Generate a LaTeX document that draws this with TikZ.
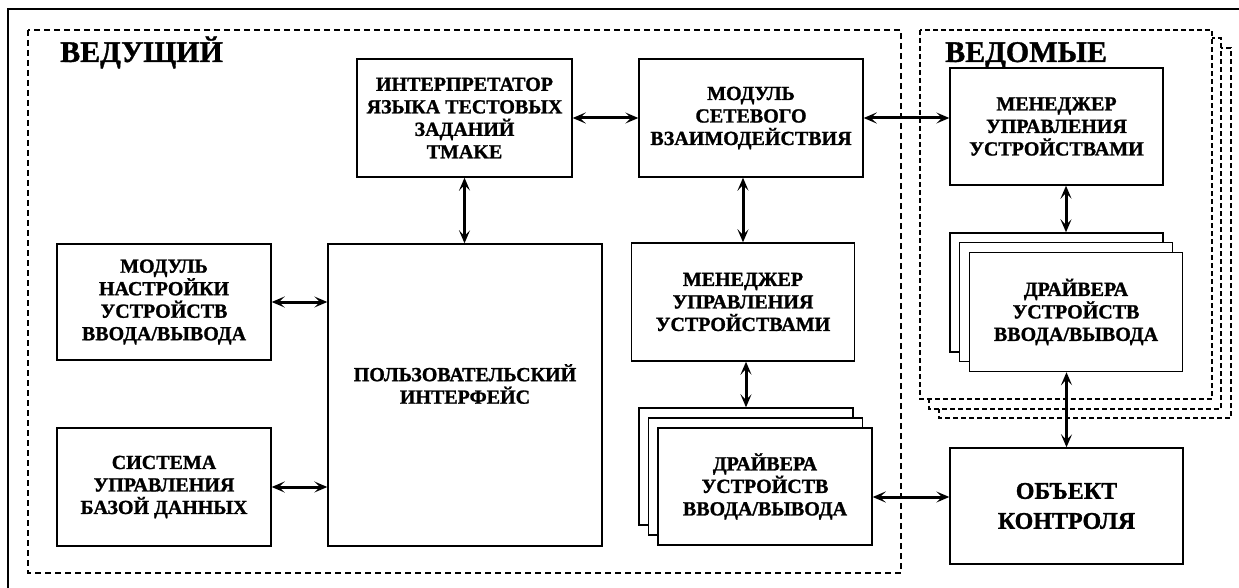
\documentclass[tikz,border=0pt]{standalone}
\usepackage{fontspec}
\setmainfont{Liberation Serif}[BoldFeatures={FakeBold=1.2}]
\usetikzlibrary{arrows.meta,calc}
\begin{document}
\begin{tikzpicture}[x=1pt,y=-1pt,
  box/.style={draw, line width=1.4pt, fill=white, align=center, inner sep=0pt,
    font=\fontsize{20}{22.5}\selectfont\bfseries},
  conn/.style={line width=3pt,
    arrows={Stealth[length=13pt,width=11pt,inset=5.5pt]-Stealth[length=13pt,width=11pt,inset=5.5pt]}},
  masterframe/.style={line width=2.4pt, dash pattern=on 6pt off 4pt},
  slaveframe/.style={line width=1.6pt, dash pattern=on 5pt off 3pt, fill=white},
  title/.style={anchor=base west, inner sep=0pt, font=\fontsize{30}{32}\selectfont\bfseries}]
\clip (0,0) rectangle (1239,588);
% outer frame
\draw[line width=1.4pt] (8,9) rectangle (1260,610);
% master area
\draw[masterframe] (28,30) rectangle (901,573);
% slave areas (back to front)
\draw[slaveframe] (939,48) rectangle (1231,418);
\draw[slaveframe] (929,38) rectangle (1221,409);
\draw[slaveframe] (920,30) rectangle (1212,399);
% titles
\node[title] (tm) at (60,62) {ВЕДУЩИЙ};
\node[title] (ts) at (945,62) {ВЕДОМЫЕ};
% master boxes
\node[box, minimum width=215pt, minimum height=118pt] (interp) at (464.5,118)
  {ИНТЕРПРЕТАТОР\\ЯЗЫКА ТЕСТОВЫХ\\ЗАДАНИЙ\\TMAKE};
\node[box, minimum width=224pt, minimum height=118pt] (net) at (751,118)
  {МОДУЛЬ\\СЕТЕВОГО\\ВЗАИМОДЕЙСТВИЯ};
\node[box, minimum width=223pt, minimum height=118pt] (mm) at (743,302)
  {МЕНЕДЖЕР\\УПРАВЛЕНИЯ\\УСТРОЙСТВАМИ};
\node[box, minimum width=274pt, minimum height=302pt] (ui) at (465,395) {};
\node[align=center, inner sep=0pt, font=\fontsize{20}{22.5}\selectfont\bfseries] (uit) at (465,384)
  {ПОЛЬЗОВАТЕЛЬСКИЙ\\ИНТЕРФЕЙС};
\node[box, minimum width=214pt, minimum height=116pt] (mod) at (164,302)
  {МОДУЛЬ\\НАСТРОЙКИ\\УСТРОЙСТВ\\ВВОДА/ВЫВОДА};
\node[box, minimum width=214pt, minimum height=118pt] (db) at (164,487)
  {СИСТЕМА\\УПРАВЛЕНИЯ\\БАЗОЙ ДАННЫХ};
\node[box, minimum width=214pt, minimum height=117pt] (drvM1) at (746,466.5) {};
\node[box, minimum width=214pt, minimum height=117pt] (drvM2) at (755.5,476.5) {};
\node[box, minimum width=214pt, minimum height=117pt] (drvM3) at (765,486.5)
  {ДРАЙВЕРА\\УСТРОЙСТВ\\ВВОДА/ВЫВОДА};
% slave boxes
\node[box, minimum width=213pt, minimum height=117pt] (smgr) at (1056.5,126.5)
  {МЕНЕДЖЕР\\УПРАВЛЕНИЯ\\УСТРОЙСТВАМИ};
\node[box, minimum width=213pt, minimum height=119pt] (sdrv1) at (1056.5,292.5) {};
\node[box, minimum width=213pt, minimum height=119pt] (sdrv2) at (1066,302) {};
\node[box, minimum width=213pt, minimum height=119pt] (sdrv3) at (1076,312)
  {ДРАЙВЕРА\\УСТРОЙСТВ\\ВВОДА/ВЫВОДА};
% object
\node[box, minimum width=233pt, minimum height=116pt, font=\fontsize{24}{30}\selectfont\bfseries] (obj) at (1066.5,506)
  {ОБЪЕКТ\\КОНТРОЛЯ};
% connectors
\draw[conn] (interp.east) -- (net.west);
\draw[conn] (net.east) -- (net.east -| smgr.west);
\draw[conn] (interp.south) -- (interp.south |- ui.north);
\draw[conn] (mm.north) -- (mm.north |- net.south);
\draw[conn] (drvM1.north) -- (drvM1.north |- mm.south);
\draw[conn] (mod.east) -- (mod.east -| ui.west);
\draw[conn] (db.east) -- (db.east -| ui.west);
\draw[conn] (smgr.south -| sdrv2.north) -- (sdrv2.north |- sdrv1.north);
\draw[conn] (obj.north) -- (obj.north |- sdrv3.south);
\coordinate (oa) at (911,497);
\draw[conn] (oa -| drvM3.east) -- (oa -| obj.west);
\end{tikzpicture}
\end{document}
